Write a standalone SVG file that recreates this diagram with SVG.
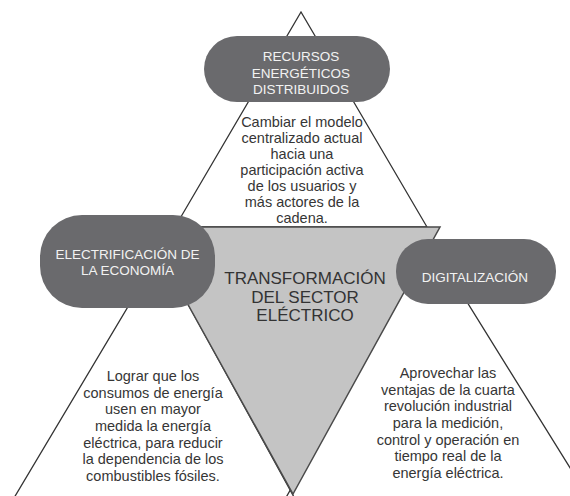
<svg xmlns="http://www.w3.org/2000/svg" width="570" height="496" viewBox="0 0 570 496">
<style>
.tri{fill:none;stroke:#333;stroke-width:1.3}
.node{fill:#6a6a6d}
.nt{font-family:"Liberation Sans",Arial,sans-serif;font-size:13.5px;fill:#f2f2f2;text-anchor:middle}
.desc{font-family:"Liberation Sans",Arial,sans-serif;font-size:14.5px;fill:#363636;text-anchor:middle}
.ct{font-family:"Liberation Sans",Arial,sans-serif;font-size:17px;fill:#333;text-anchor:middle}
</style>
<rect width="570" height="496" fill="#fff"/>
<g id="connectors">
<path class="tri" d="M175,227 L301,12 L427,227 Z"/>
<path class="tri" d="M8,508 L160,253 L300,508"/>
<path class="tri" d="M280,508 L431,244 L590,500"/>
</g>
<g id="center">
<path d="M145,227 L440,227 L293,494 Z" fill="#c4c4c4" stroke="#4a4a4a" stroke-width="1.5" stroke-linejoin="miter"/>
<text class="ct" x="305" y="284">TRANSFORMACIÓN</text>
<text class="ct" x="305" y="303">DEL SECTOR</text>
<text class="ct" x="305" y="321">ELÉCTRICO</text>
</g>
<g id="recursos">
<rect class="node" x="204" y="36" width="186" height="66" rx="33"/>
<text class="nt" x="301" y="61">RECURSOS</text>
<text class="nt" x="301" y="78">ENERGÉTICOS</text>
<text class="nt" x="301" y="94">DISTRIBUIDOS</text>
</g>
<g id="electrificacion">
<rect class="node" x="40" y="215" width="175" height="93" rx="42"/>
<text class="nt" x="127.5" y="259">ELECTRIFICACIÓN DE</text>
<text class="nt" x="127.5" y="275">LA ECONOMÍA</text>
</g>
<g id="digitalizacion">
<rect class="node" x="396" y="239" width="160" height="65" rx="32"/>
<text class="nt" x="475" y="282">DIGITALIZACIÓN</text>
</g>
<g id="desc-top">
<text class="desc" x="302" y="127">Cambiar el modelo</text>
<text class="desc" x="302" y="143">centralizado actual</text>
<text class="desc" x="302" y="159">hacia una</text>
<text class="desc" x="302" y="175">participación activa</text>
<text class="desc" x="302" y="191">de los usuarios y</text>
<text class="desc" x="302" y="207">más actores de la</text>
<text class="desc" x="302" y="223">cadena.</text>
</g>
<g id="desc-left">
<text class="desc" x="153" y="381">Lograr que los</text>
<text class="desc" x="153" y="398">consumos de energía</text>
<text class="desc" x="153" y="414">usen en mayor</text>
<text class="desc" x="153" y="431">medida la energía</text>
<text class="desc" x="153" y="448">eléctrica, para reducir</text>
<text class="desc" x="153" y="464">la dependencia de los</text>
<text class="desc" x="153" y="481">combustibles fósiles.</text>
</g>
<g id="desc-right">
<text class="desc" x="448" y="378">Aprovechar las</text>
<text class="desc" x="448" y="395">ventajas de la cuarta</text>
<text class="desc" x="448" y="411">revolución industrial</text>
<text class="desc" x="448" y="428">para la medición,</text>
<text class="desc" x="448" y="445">control y operación en</text>
<text class="desc" x="448" y="461">tiempo real de la</text>
<text class="desc" x="448" y="478">energía eléctrica.</text>
</g>
</svg>
